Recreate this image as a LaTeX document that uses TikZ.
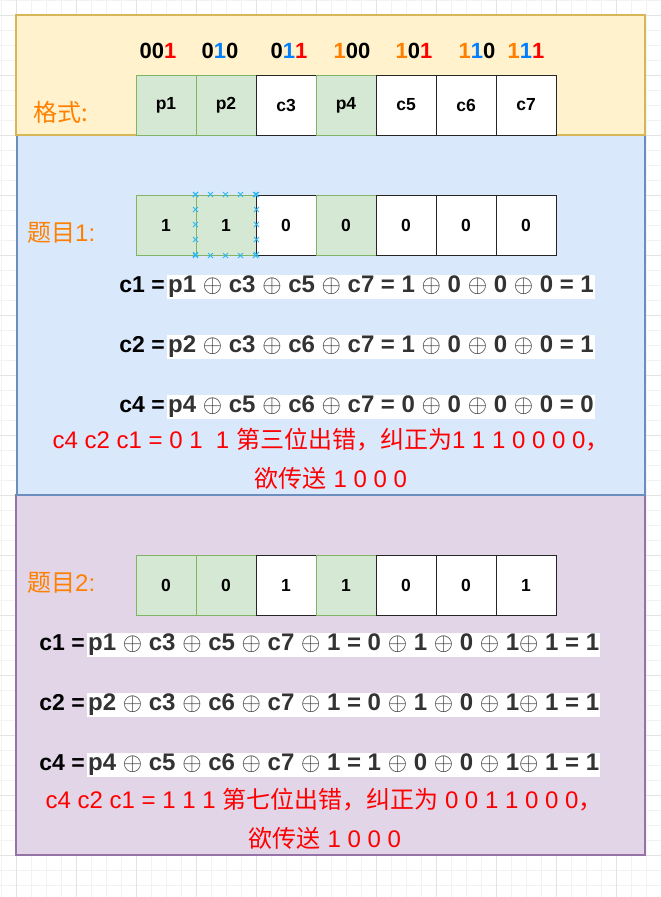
\documentclass[tikz,border=0pt]{standalone}
\usepackage{fontspec}
\usetikzlibrary{calc}
\setmainfont{Liberation Sans}
\newfontfamily\cjk{Noto Sans CJK SC}
\definecolor{gminor}{HTML}{F2F2F2}
\definecolor{gmajor}{HTML}{E3E3E3}
\definecolor{yfill}{HTML}{FFF2CC}
\definecolor{ydraw}{HTML}{D6B656}
\definecolor{bfill}{HTML}{DAE8FC}
\definecolor{bdraw}{HTML}{6C8EBF}
\definecolor{pfill}{HTML}{E1D5E7}
\definecolor{pdraw}{HTML}{9673A6}
\definecolor{gfill}{HTML}{D5E8D4}
\definecolor{gdraw}{HTML}{82B366}
\definecolor{bitO}{HTML}{FF8000}
\definecolor{bitB}{HTML}{007FFF}
\definecolor{bitR}{HTML}{FF0000}
\definecolor{lbl}{HTML}{FF8000}
\definecolor{eqg}{HTML}{333333}
\definecolor{selb}{HTML}{29B6F2}
\begin{document}
\begin{tikzpicture}[x=1pt,y=-1pt,
  cell/.style={minimum width=60pt,minimum height=60pt,inner sep=0pt,line width=1pt,font=\fontsize{17.5}{21}\selectfont\bfseries},
  gcell/.style={cell,fill=gfill,draw=gdraw},
  wcell/.style={cell,fill=white,draw=black!85},
  hdr/.style={font=\fontsize{22}{26}\selectfont\bfseries,inner sep=0pt},
  lab/.style={font=\fontsize{24}{28}\selectfont,text=lbl,inner sep=0pt,anchor=west},
  eqk/.style={font=\fontsize{23}{28}\selectfont\bfseries,inner xsep=2pt,inner ysep=0pt,anchor=base east},
  eqw/.style={font=\fontsize{24}{28}\selectfont\bfseries,text=eqg,fill=white,inner xsep=1pt,inner ysep=1pt,anchor=west},
  note/.style={font=\fontsize{24}{28}\selectfont,text=bitR,inner sep=0pt},
  sel/.style={draw=selb,line width=0.8pt}
]
\useasboundingbox (0,0) rectangle (661,897);
\fill[white] (0,0) rectangle (661,897);
% grid
\foreach \i in {0,...,44} \draw[gminor,line width=0.6pt] ({1+15*\i},0) -- ({1+15*\i},897);
\foreach \j in {0,...,59} \draw[gminor,line width=0.6pt] (0,{15*\j}) -- (661,{15*\j});
\foreach \i in {0,...,10} \draw[gmajor,line width=0.6pt] ({16+60*\i},0) -- ({16+60*\i},897);
\foreach \j in {0,...,14} \draw[gmajor,line width=0.6pt] (0,{15+60*\j}) -- (661,{15+60*\j});
% panels
\draw[fill=pfill,draw=pdraw,line width=1.2pt] (16,495) rectangle (645,855);
\draw[fill=bfill,draw=bdraw,line width=1.2pt] (17,135) rectangle (645,495);
\draw[fill=yfill,draw=ydraw,line width=1.2pt] (16,15) rectangle (645,135);
% header codes
\node[hdr] (h1) at (158,51) {00{\color{bitR}1}};
\node[hdr] (h2) at (220,51) {0{\color{bitB}1}0};
\node[hdr] (h3) at (289,51) {0{\color{bitB}1}{\color{bitR}1}};
\node[hdr] (h4) at (352,51) {{\color{bitO}1}00};
\node[hdr] (h5) at (414,51) {{\color{bitO}1}0{\color{bitR}1}};
\node[hdr] (h6) at (477,51) {{\color{bitO}1}{\color{bitB}1}0};
\node[hdr] (h7) at (526,51) {{\color{bitO}1}{\color{bitB}1}{\color{bitR}1}};
% format row
\node[lab] (l0) at (33,112) {\cjk 格式:};
\node[gcell] (a1) at (166,105) {p1};
\node[gcell] (a2) at (226,105) {p2};
\node[wcell] (a3) at (286,105) {c3};
\node[gcell] (a4) at (346,105) {p4};
\node[wcell] (a5) at (406,105) {c5};
\node[wcell] (a6) at (466,105) {c6};
\node[wcell] (a7) at (526,105) {c7};
% problem 1
\node[lab] (l1) at (27,233) {{\cjk 题目}1:};
\node[gcell] (b1) at (166,225) {1};
\node[gcell] (b2) at (226,225) {1};
\node[wcell] (b3) at (286,225) {0};
\node[gcell] (b4) at (346,225) {0};
\node[wcell] (b5) at (406,225) {0};
\node[wcell] (b6) at (466,225) {0};
\node[wcell] (b7) at (526,225) {0};
\foreach \t in {0,15,30,45,60} {
  \draw[sel] ($(b2.north west)+(\t,0)+(-2.5,-2.5)$) -- ++(5,5) ($(b2.north west)+(\t,0)+(-2.5,2.5)$) -- ++(5,-5);
  \draw[sel] ($(b2.south west)+(\t,0)+(-2.5,-2.5)$) -- ++(5,5) ($(b2.south west)+(\t,0)+(-2.5,2.5)$) -- ++(5,-5);
  \draw[sel] ($(b2.north west)+(0,\t)+(-2.5,-2.5)$) -- ++(5,5) ($(b2.north west)+(0,\t)+(-2.5,2.5)$) -- ++(5,-5);
  \draw[sel] ($(b2.north east)+(0,\t)+(-2.5,-2.5)$) -- ++(5,5) ($(b2.north east)+(0,\t)+(-2.5,2.5)$) -- ++(5,-5);
}
\node[eqw] (e1) at (167,287) {p1 $\oplus$ c3 $\oplus$ c5 $\oplus$ c7 = 1 $\oplus$ 0 $\oplus$ 0 $\oplus$ 0 = 1};
\node[eqk] (k1) at (e1.base west) {c1 =};
\node[eqw] (e2) at (167,347) {p2 $\oplus$ c3 $\oplus$ c6 $\oplus$ c7 = 1 $\oplus$ 0 $\oplus$ 0 $\oplus$ 0 = 1};
\node[eqk] (k2) at (e2.base west) {c2 =};
\node[eqw] (e3) at (167,407) {p4 $\oplus$ c5 $\oplus$ c6 $\oplus$ c7 = 0 $\oplus$ 0 $\oplus$ 0 $\oplus$ 0 = 0};
\node[eqk] (k3) at (e3.base west) {c4 =};
\node[note] (n1) at (331,440) {c4 c2 c1 = 0 1 \ 1 {\cjk 第三位出错，纠正为}1 1 1 0 0 0 0{\cjk ，}};
\node[note] (n2) at (331,478) {{\cjk 欲传送} 1 0 0 0};
% problem 2
\node[lab] (l2) at (27,583) {{\cjk 题目}2:};
\node[gcell] (d1) at (166,585) {0};
\node[gcell] (d2) at (226,585) {0};
\node[wcell] (d3) at (286,585) {1};
\node[gcell] (d4) at (346,585) {1};
\node[wcell] (d5) at (406,585) {0};
\node[wcell] (d6) at (466,585) {0};
\node[wcell] (d7) at (526,585) {1};
\node[eqw] (f1) at (87,645) {p1 $\oplus$ c3 $\oplus$ c5 $\oplus$ c7 $\oplus$ 1 = 0 $\oplus$ 1 $\oplus$ 0 $\oplus$ 1$\oplus$ 1 = 1};
\node[eqk] (m1) at (f1.base west) {c1 =};
\node[eqw] (f2) at (87,705) {p2 $\oplus$ c3 $\oplus$ c6 $\oplus$ c7 $\oplus$ 1 = 0 $\oplus$ 1 $\oplus$ 0 $\oplus$ 1$\oplus$ 1 = 1};
\node[eqk] (m2) at (f2.base west) {c2 =};
\node[eqw] (f3) at (87,765) {p4 $\oplus$ c5 $\oplus$ c6 $\oplus$ c7 $\oplus$ 1 = 1 $\oplus$ 0 $\oplus$ 0 $\oplus$ 1$\oplus$ 1 = 1};
\node[eqk] (m3) at (f3.base west) {c4 =};
\node[note] (n3) at (324,800) {c4 c2 c1 = 1 1 1 {\cjk 第七位出错，纠正为} 0 0 1 1 0 0 0{\cjk ，}};
\node[note] (n4) at (325,838) {{\cjk 欲传送} 1 0 0 0};
\end{tikzpicture}
\end{document}
